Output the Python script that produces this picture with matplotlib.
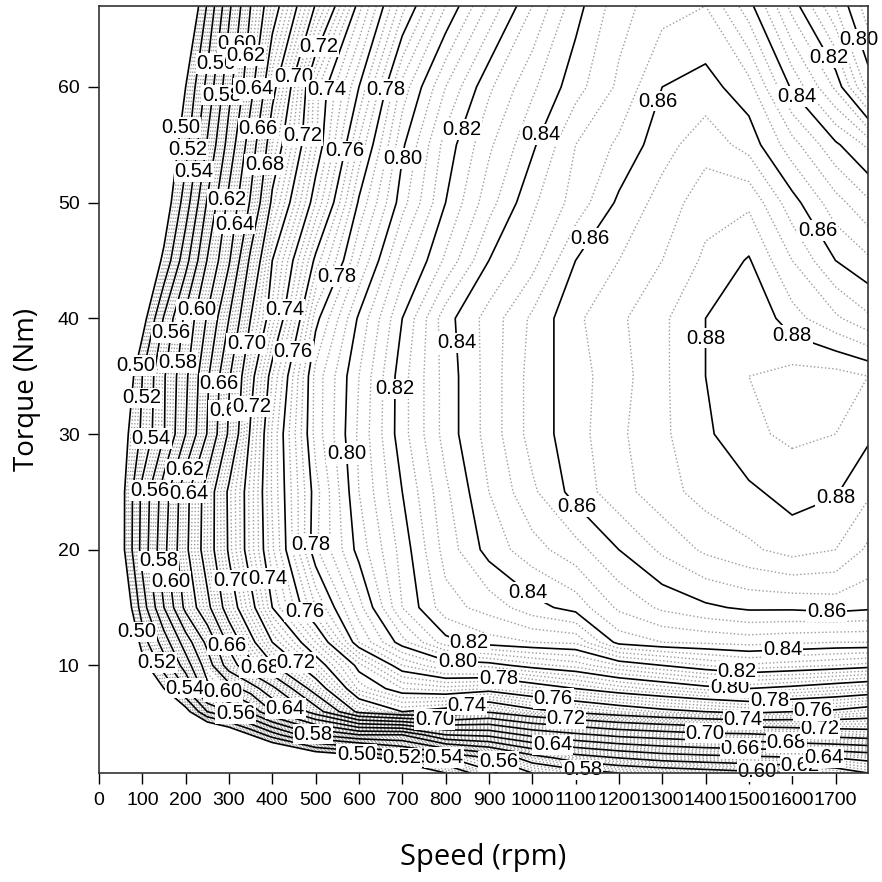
import numpy as np
import matplotlib
matplotlib.use("Agg")
import matplotlib.pyplot as plt

plt.rcParams['font.family'] = ['Liberation Sans', 'DejaVu Sans']

# Speed grid (rpm) and torque grid (Nm)
speed = [0, 50, 100, 150, 200, 250, 300, 350, 400, 500, 600, 700, 800,
         900, 1000, 1100, 1200, 1300, 1400, 1500, 1600, 1700, 1775]
torque = [0.7, 2, 4, 6, 8, 10, 12, 15, 20, 25, 30, 35, 40, 45, 50, 55, 60, 67]

eff_t0_7 = [.25, .26, .27, .28, .30, .32, .35, .38, .40, .41, .42, .46, .50, .535, .56, .57, .58, .585, .59, .595, .60, .61, .62]
eff_t2 = [.26, .27, .29, .31, .33, .36, .39, .42, .44, .47, .485, .52, .538, .56, .59, .61, .62, .628, .632, .635, .638, .64, .645]
eff_t4 = [.28, .30, .34, .38, .42, .45, .47, .50, .53, .58, .60, .60, .64, .645, .665, .676, .685, .69, .695, .697, .702, .707, .71]
eff_t6 = [.30, .34, .40, .45, .49, .54, .56, .585, .62, .67, .725, .74, .735, .722, .735, .743, .75, .756, .76, .764, .76, .757, .752]
eff_t8 = [.32, .38, .45, .50, .54, .595, .61, .63, .655, .71, .752, .765, .768, .765, .773, .78, .787, .792, .797, .80, .797, .793, .79]
eff_t10 = [.34, .42, .49, .53, .57, .61, .65, .675, .698, .733, .763, .785, .795, .797, .803, .807, .815, .82, .825, .829, .827, .825, .823]
eff_t12 = [.36, .44, .51, .55, .59, .625, .665, .695, .72, .75, .785, .803, .818, .823, .825, .826, .842, .845, .846, .847, .846, .845, .845]
eff_t15 = [.38, .47, .53, .58, .625, .655, .69, .715, .74, .77, .793, .815, .828, .832, .838, .842, .851, .856, .859, .861, .861, .862, .861]
eff_t20 = [.40, .49, .547, .595, .636, .67, .702, .727, .749, .784, .802, .817, .832, .842, .848, .853, .86, .866, .871, .874, .877, .875, .869]
eff_t25 = [.40, .49, .545, .59, .634, .669, .703, .727, .751, .783, .805, .82, .834, .845, .854, .862, .868, .873, .877, .879, .882, .8805, .876]
eff_t30 = [.40, .487, .524, .559, .60, .641, .683, .722, .751, .787, .806, .823, .837, .847, .857, .863, .869, .874, .879, .884, .886, .885, .881]
eff_t35 = [.40, .47, .52, .558, .596, .637, .678, .715, .745, .787, .805, .823, .837, .847, .857, .863, .868, .874, .88, .885, .887, .887, .885]
eff_t40 = [.40, .44, .49, .542, .585, .622, .66, .70, .727, .778, .801, .82, .838, .847, .856, .864, .869, .874, .88, .885, .877, .871, .866]
eff_t45 = [.40, .43, .47, .505, .553, .601, .638, .684, .72, .762, .79, .812, .826, .84, .848, .86, .865, .87, .876, .8805, .87, .86, .856]
eff_t50 = [.40, .43, .46, .485, .53, .582, .625, .662, .703, .745, .781, .803, .82, .833, .844, .852, .861, .867, .873, .874, .862, .852, .846]
eff_t55 = [.40, .42, .45, .475, .513, .562, .608, .65, .69, .734, .771, .799, .817, .829, .839, .85, .856, .863, .868, .863, .852, .841, .834]
eff_t60 = [.40, .42, .44, .46, .50, .546, .594, .634, .675, .733, .76, .792, .81, .824, .834, .843, .851, .86, .862, .857, .839, .824, .803]
eff_t67 = [.40, .42, .44, .455, .467, .522, .576, .62, .652, .701, .743, .773, .795, .811, .825, .838, .848, .853, .855, .842, .823, .805, .792]

eff = np.array([eff_t0_7, eff_t2, eff_t4, eff_t6, eff_t8, eff_t10, eff_t12,
                eff_t15, eff_t20, eff_t25, eff_t30, eff_t35, eff_t40,
                eff_t45, eff_t50, eff_t55, eff_t60, eff_t67])

major_levels = [0.50, 0.52, 0.54, 0.56, 0.58, 0.60, 0.62, 0.64, 0.66, 0.68,
                0.70, 0.72, 0.74, 0.76, 0.78, 0.80, 0.82, 0.84, 0.86, 0.88]
minor_levels = [round(v, 3) for v in np.arange(0.505, 0.895, 0.005)
                if abs(v * 50 - round(v * 50)) > 1e-6]

# Approximate anchor points (speed, torque) where each level is labelled
label_anchors = {
    0.50: [(193, 56.5), (75, 36.0), (75, 12.8), (595, 2.3)],
    0.52: [(205, 54.6), (117, 33.1), (119, 10.0), (699, 2.0)],
    0.54: [(214, 52.7), (121, 29.6), (209, 8.3), (796, 2.0)],
    0.56: [(258, 62.1), (177, 38.7), (117, 25.1), (316, 5.9), (921, 1.6)],
    0.58: [(262, 59.4), (182, 36.2), (128, 19.0), (495, 4.2), (1117, 1.1)],
    0.60: [(318, 63.8), (232, 40.7), (175, 17.3), (288, 8.0), (1519, 0.9)],
    0.62: [(348, 62.7), (274, 50.4), (193, 27.0), (1618, 1.4)],
    0.64: [(348, 59.9), (285, 48.3), (209, 24.9), (422, 5.9), (1047, 3.1), (1673, 2.1)],
    0.66: [(348, 56.5), (277, 34.4), (277, 11.5), (1480, 2.7)],
    0.68: [(364, 53.4), (274, 32.1), (369, 9.7), (1586, 3.4)],
    0.70: [(429, 61.1), (325, 37.9), (302, 17.3), (775, 5.4), (1399, 4.1)],
    0.72: [(509, 63.5), (429, 55.9), (352, 32.4), (445, 9.8), (1078, 5.2), (1664, 4.4)],
    0.74: [(509, 59.8), (408, 40.9), (389, 17.5), (851, 6.2), (1486, 5.0)],
    0.76: [(540, 54.7), (431, 37.3), (445, 13.7), (1047, 6.6), (1648, 5.9)],
    0.78: [(660, 59.8), (532, 43.9), (477, 20.5), (921, 8.4), (1548, 6.5)],
    0.80: [(701, 53.8), (565, 28.3), (828, 10.4), (1456, 8.0), (1745, 64.0)],
    0.82: [(847, 56.2), (685, 33.9), (856, 12.4), (1473, 9.6), (1664, 62.1)],
    0.84: [(1013, 56.0), (833, 37.9), (988, 16.2), (1579, 10.6), (1606, 59.0)],
    0.86: [(1288, 58.8), (1133, 46.9), (1110, 24.0), (1678, 13.7), (1664, 47.7)],
    0.88: [(1396, 38.3), (1595, 38.3), (1722, 23.4)],
}

xticks = list(range(0, 1800, 100))
yticks = [10, 20, 30, 40, 50, 60]

fig = plt.figure(figsize=(8.82, 8.82), dpi=100)
ax = fig.add_axes([99 / 882, 1 - 773 / 882, (868 - 99) / 882, (773 - 6) / 882])
ax.set_xlim(0, 1775)
ax.set_ylim(0.7, 67)

ax.contour(speed, torque, eff, levels=minor_levels, colors='#9c9c9c',
           linestyles=':', linewidths=1.0)

all_texts = []
for lev in major_levels:
    cs_lev = ax.contour(speed, torque, eff, levels=[lev], colors='black',
                        linewidths=1.2)
    ax.clabel(cs_lev, fmt='%.2f', fontsize=14.5, inline=False,
              manual=label_anchors[lev])
    all_texts.extend(cs_lev.labelTexts)

for t in all_texts:
    t.set_rotation(0)
    t.set_bbox(dict(facecolor='white', edgecolor='none', pad=0.6))
    t.set_zorder(5)
    t.set_clip_on(False)

ax.set_xlim(0, 1775)
ax.set_ylim(0.7, 67)
ax.set_xticks(xticks)
ax.set_xticklabels([str(v) for v in xticks])
ax.set_yticks(yticks)
ax.set_yticklabels([str(v) for v in yticks])
ax.tick_params(direction='out', length=8, width=1, labelsize=14, pad=6)
for s in ax.spines.values():
    s.set_linewidth(1.2)
    s.set_color('#333333')
    s.set_zorder(6)

ax.set_xlabel('Speed (rpm)', fontsize=21, family=['Open Sans', 'DejaVu Sans'], labelpad=24)
ax.set_ylabel('Torque (Nm)', fontsize=20, family=['Open Sans', 'DejaVu Sans'], labelpad=12)

fig.savefig('out.png', dpi=100)
